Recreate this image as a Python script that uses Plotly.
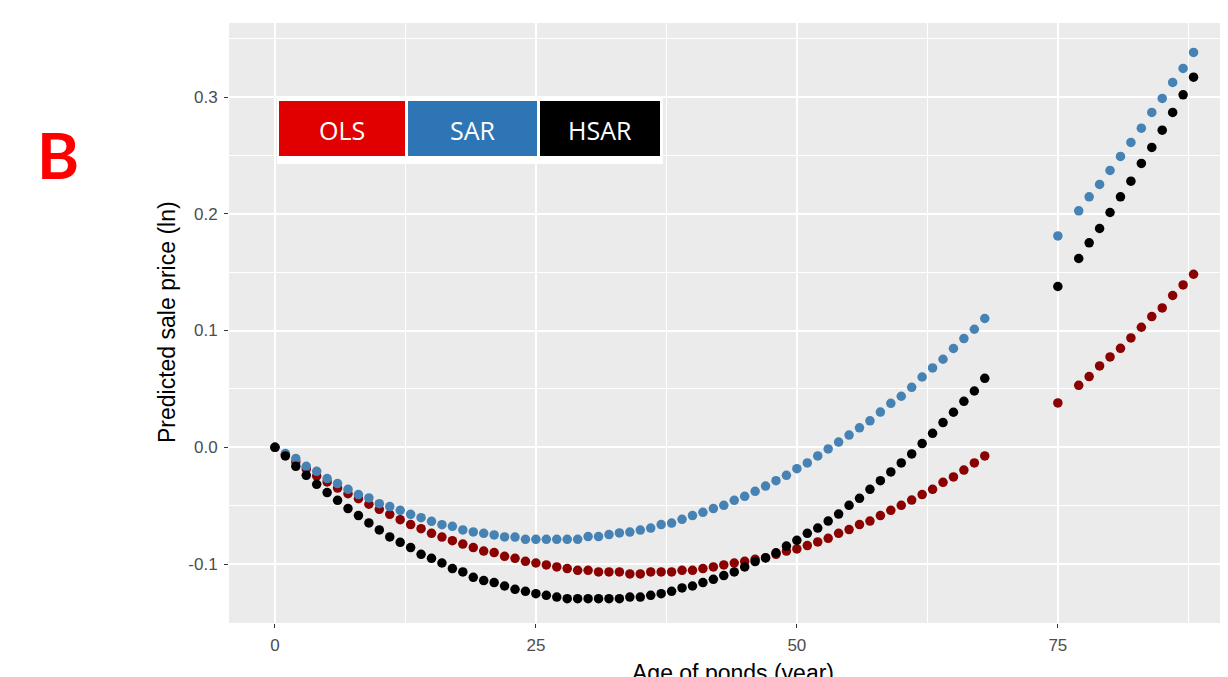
import plotly.graph_objects as go

# ---------------- data ----------------
age = list(range(0, 69)) + [75, 77, 78, 79, 80, 81, 82, 83, 84, 85, 86, 87, 88]

ols = [0.0, -0.0065, -0.0125, -0.0185, -0.0246, -0.0297, -0.0349, -0.0397, -0.044, -0.0488,
       -0.0531, -0.0574, -0.062, -0.0662, -0.0697, -0.0737, -0.0769, -0.08, -0.0829, -0.0859,
       -0.0889, -0.0902, -0.0934, -0.0951, -0.0977, -0.0991, -0.1008, -0.1025, -0.1039, -0.1054,
       -0.1054, -0.1068, -0.1068, -0.1068, -0.1085, -0.1085, -0.1068, -0.1068, -0.1068, -0.1054,
       -0.1054, -0.1039, -0.1025, -0.1008, -0.0991, -0.0977, -0.096, -0.0946, -0.0917, -0.0889,
       -0.0871, -0.0842, -0.0811, -0.078, -0.0737, -0.0705, -0.0662, -0.0632, -0.0585, -0.054,
       -0.0497, -0.0452, -0.0405, -0.036, -0.03, -0.0254, -0.0195, -0.0134, -0.0074,
       0.038, 0.0531, 0.0606, 0.0697, 0.0774, 0.0848, 0.0937, 0.1028, 0.112, 0.1194, 0.13, 0.1391, 0.1482]

sar = [0.0, -0.0054, -0.0097, -0.0163, -0.0206, -0.0268, -0.0311, -0.036, -0.0405, -0.0434,
       -0.0483, -0.0508, -0.054, -0.0574, -0.0603, -0.0634, -0.0663, -0.0677, -0.0708, -0.0725,
       -0.0737, -0.0751, -0.0768, -0.0769, -0.0788, -0.0788, -0.0788, -0.0788, -0.0788, -0.0788,
       -0.0765, -0.0765, -0.0748, -0.0734, -0.0726, -0.0709, -0.0692, -0.0662, -0.0649, -0.0617,
       -0.0585, -0.0557, -0.0525, -0.0497, -0.0454, -0.042, -0.0377, -0.0332, -0.0286, -0.024,
       -0.0183, -0.0134, -0.0074, -0.0014, 0.0045, 0.0105, 0.0167, 0.0227, 0.0302, 0.0377,
       0.0437, 0.0514, 0.0602, 0.068, 0.0754, 0.0846, 0.0931, 0.1011, 0.1103,
       0.181, 0.2025, 0.2145, 0.2251, 0.2371, 0.2491, 0.2611, 0.2733, 0.2868, 0.2988, 0.3125, 0.3245, 0.3382]

hsar = [0.0, -0.0074, -0.0163, -0.024, -0.0317, -0.0388, -0.0454, -0.0525, -0.0585, -0.0648,
        -0.0708, -0.0768, -0.0814, -0.0859, -0.0917, -0.0951, -0.0991, -0.1039, -0.1068, -0.1114,
        -0.1142, -0.1159, -0.1188, -0.1217, -0.1234, -0.1254, -0.1268, -0.1283, -0.1297, -0.1297,
        -0.1297, -0.1297, -0.1297, -0.1297, -0.1283, -0.1283, -0.1268, -0.1254, -0.1234, -0.1205,
        -0.1188, -0.1159, -0.1131, -0.1099, -0.1068, -0.1025, -0.0979, -0.0948, -0.0904, -0.0846,
        -0.0797, -0.0737, -0.0692, -0.0632, -0.0572, -0.0497, -0.0437, -0.036, -0.0286, -0.0211,
        -0.0134, -0.0057, 0.0032, 0.012, 0.0212, 0.03, 0.0394, 0.0482, 0.0591,
        0.1377, 0.1617, 0.1751, 0.1874, 0.2011, 0.2145, 0.2279, 0.2431, 0.2568, 0.2716, 0.2868, 0.3019, 0.317]

series_names = ["OLS", "SAR", "HSAR"]
point_colors = ["#8B0000", "#4682B4", "#000000"]
box_colors = ["#E00000", "#2E75B6", "#000000"]

x_ticks = [0, 25, 50, 75]
y_ticks = [-0.1, 0.0, 0.1, 0.2, 0.3]
y_ticktext = ["-0.1", "0.0", "0.1", "0.2", "0.3"]

# ---------------- figure ----------------
# the page body adds an 8px offset, so the figure is drawn 8px smaller
W, H = 1220, 669
L, R, T, B = 221, 0, 15, 54

# plot panel in screen pixels
PX0, PX1, PY0, PY1 = 229, 1228, 23, 623


def px(xp):
    return (xp - PX0) / (PX1 - PX0)


def py(yp):
    return (PY1 - yp) / (PY1 - PY0)


fig = go.Figure()
for name, vals, col in zip(series_names, [ols, sar, hsar], point_colors):
    fig.add_trace(go.Scatter(x=age, y=vals, mode="markers", name=name,
                             marker=dict(color=col, size=9.5, line=dict(width=0)),
                             showlegend=False))

tickfont = dict(family="Liberation Sans, Arial, sans-serif", size=17, color="#4D4D4D")

fig.update_layout(
    width=W, height=H,
    margin=dict(l=L, r=R, t=T, b=B, pad=0),
    paper_bgcolor="white",
    plot_bgcolor="#EBEBEB",
    showlegend=False,
    xaxis=dict(range=[-4.4, 91.3], tickvals=x_ticks, ticktext=[str(v) for v in x_ticks],
               showgrid=True, gridcolor="white", gridwidth=2,
               minor=dict(dtick=12.5, tick0=0, showgrid=True, gridcolor="white", gridwidth=1),
               ticks="outside", ticklen=4, tickcolor="#333333", tickwidth=1,
               tickfont=tickfont, ticklabelstandoff=3,
               zeroline=False, showline=False),
    yaxis=dict(range=[-0.1505, 0.3634], tickvals=y_ticks, ticktext=y_ticktext,
               showgrid=True, gridcolor="white", gridwidth=2,
               minor=dict(dtick=0.05, tick0=0, showgrid=True, gridcolor="white", gridwidth=1),
               ticks="outside", ticklen=4, tickcolor="#333333", tickwidth=1,
               tickfont=tickfont, ticklabelstandoff=3,
               zeroline=False, showline=False),
)

# axis titles
fig.add_annotation(text="Predicted sale price (ln)", xref="paper", yref="paper",
                   x=px(167), y=py(322), textangle=-90, showarrow=False,
                   xanchor="center", yanchor="middle",
                   font=dict(family="Liberation Sans, Arial, sans-serif", size=23, color="#000000"))
fig.add_annotation(text="Age of ponds (year)", xref="paper", yref="paper",
                   x=px(733), y=py(673), showarrow=False,
                   xanchor="center", yanchor="middle",
                   font=dict(family="Liberation Sans, Arial, sans-serif", size=23, color="#000000"))

# panel label
fig.add_annotation(text="<b>B</b>", xref="paper", yref="paper",
                   x=px(58), y=py(155), showarrow=False,
                   xanchor="center", yanchor="middle",
                   font=dict(family="Lato, Open Sans, sans-serif", size=64, color="#FF0000"))

# custom legend box
fig.add_shape(type="rect", xref="paper", yref="paper",
              x0=px(277), x1=px(663), y0=py(164), y1=py(97),
              fillcolor="white", line=dict(width=0), layer="above")
box_edges = [(279, 405), (408, 537), (540, 660)]
for (x0, x1), col, name in zip(box_edges, box_colors, series_names):
    fig.add_shape(type="rect", xref="paper", yref="paper",
                  x0=px(x0), x1=px(x1), y0=py(156), y1=py(101),
                  fillcolor=col, line=dict(width=0), layer="above")
    fig.add_annotation(text=name, xref="paper", yref="paper",
                       x=px((x0 + x1) / 2), y=py(130), showarrow=False,
                       xanchor="center", yanchor="middle",
                       font=dict(family="Open Sans, sans-serif", size=25, color="white"))

fig.write_html("out.html")
